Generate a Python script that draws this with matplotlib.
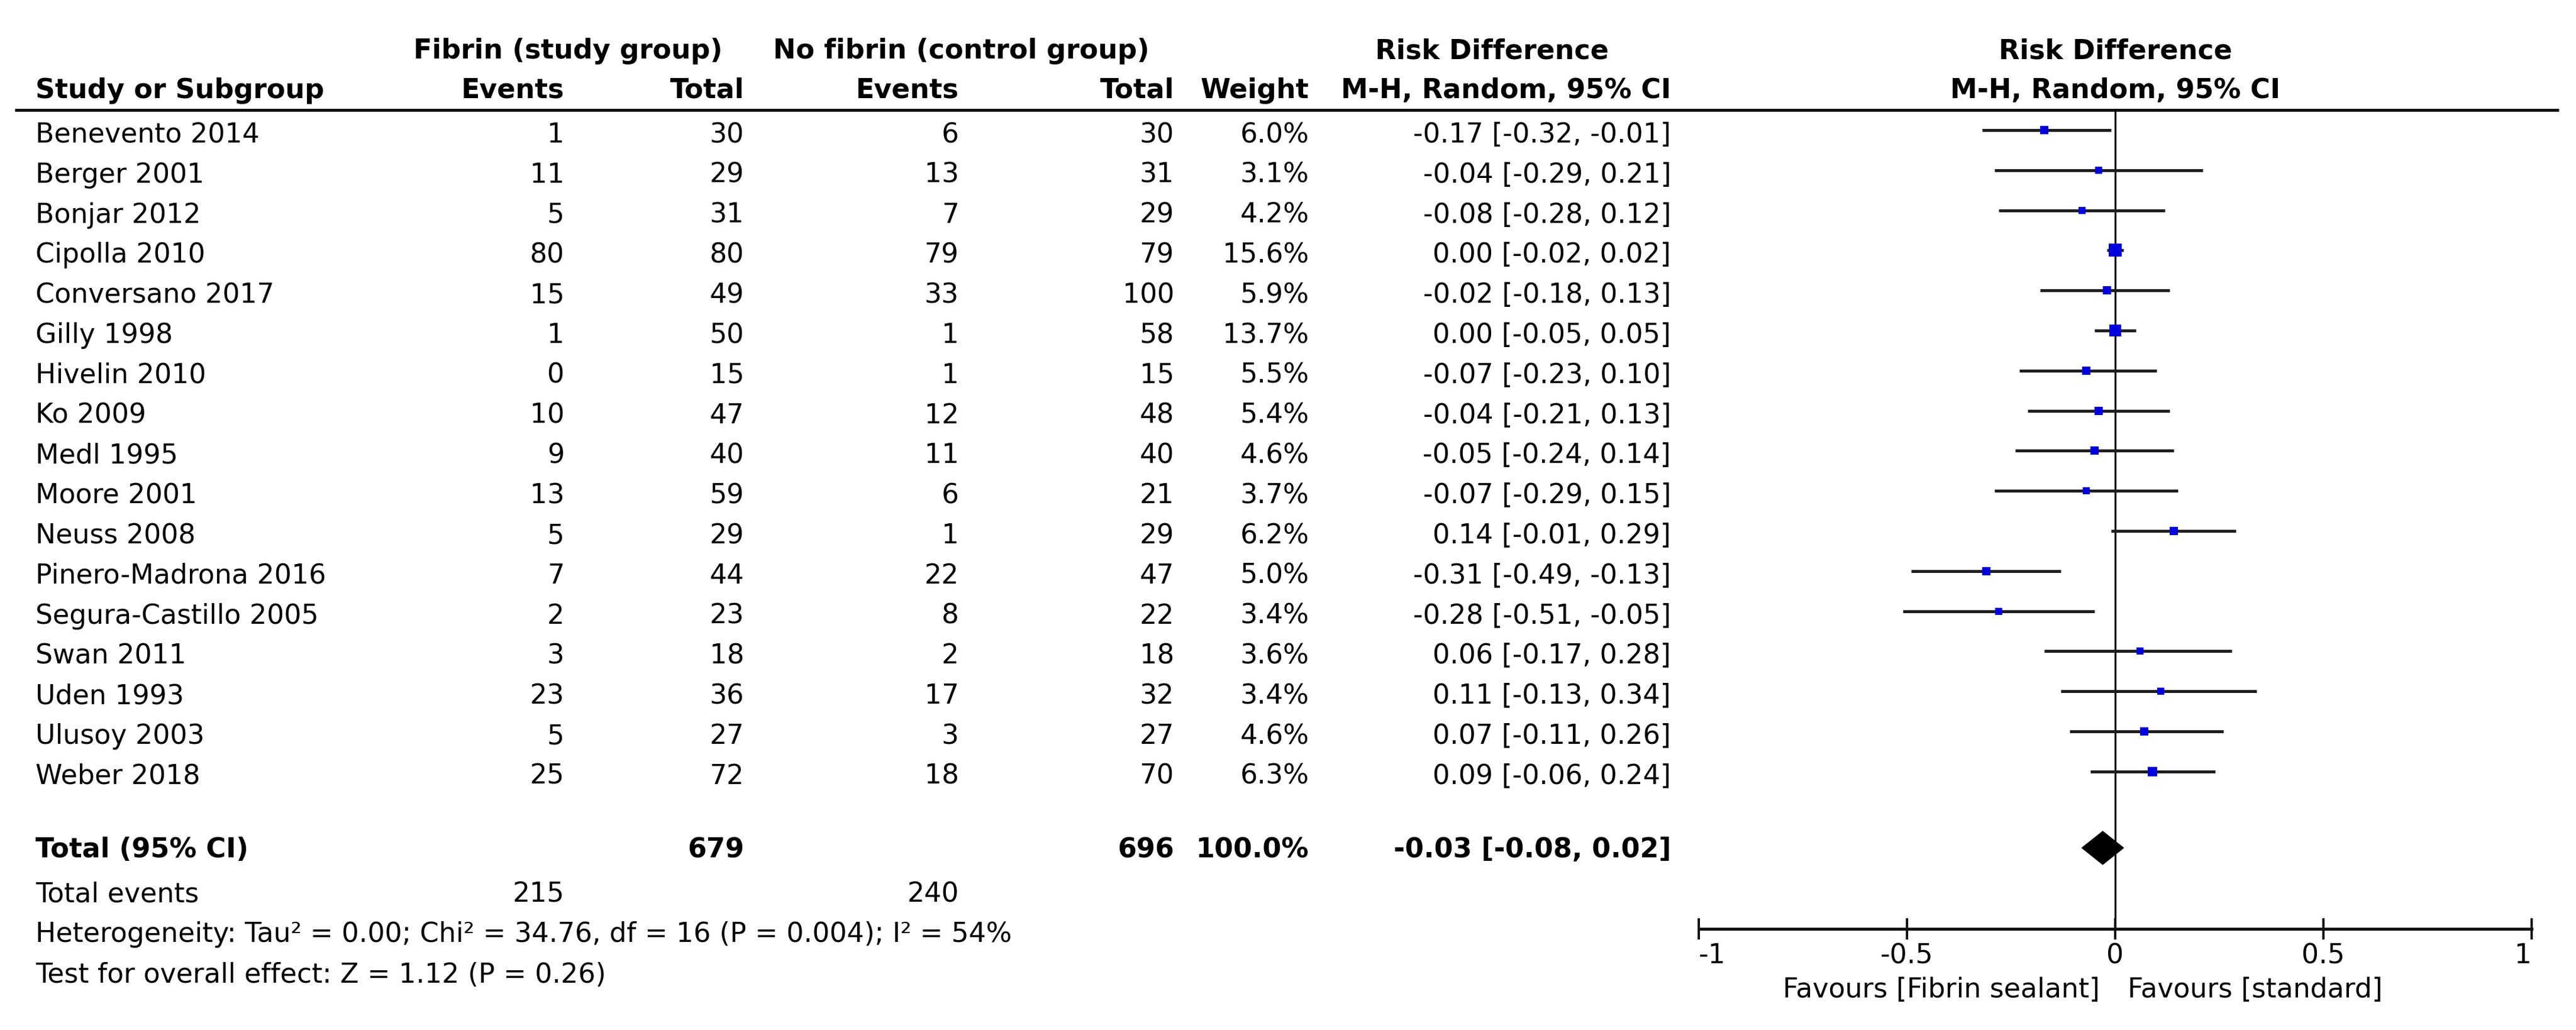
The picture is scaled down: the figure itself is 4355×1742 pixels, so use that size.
import matplotlib
matplotlib.use("Agg")
import matplotlib.pyplot as plt

# ---------------- data ----------------
studies = ["Benevento 2014", "Berger 2001", "Bonjar 2012", "Cipolla 2010", "Conversano 2017",
           "Gilly 1998", "Hivelin 2010", "Ko 2009", "Medl 1995", "Moore 2001", "Neuss 2008",
           "Pinero-Madrona 2016", "Segura-Castillo 2005", "Swan 2011", "Uden 1993",
           "Ulusoy 2003", "Weber 2018"]
ev_fib = [1, 11, 5, 80, 15, 1, 0, 10, 9, 13, 5, 7, 2, 3, 23, 5, 25]
tot_fib = [30, 29, 31, 80, 49, 50, 15, 47, 40, 59, 29, 44, 23, 18, 36, 27, 72]
ev_ctl = [6, 13, 7, 79, 33, 1, 1, 12, 11, 6, 1, 22, 8, 2, 17, 3, 18]
tot_ctl = [30, 31, 29, 79, 100, 58, 15, 48, 40, 21, 29, 47, 22, 18, 32, 27, 70]
weight = [6.0, 3.1, 4.2, 15.6, 5.9, 13.7, 5.5, 5.4, 4.6, 3.7, 6.2, 5.0, 3.4, 3.6, 3.4, 4.6, 6.3]
rd = [-0.17, -0.04, -0.08, 0.00, -0.02, 0.00, -0.07, -0.04, -0.05, -0.07, 0.14, -0.31, -0.28,
      0.06, 0.11, 0.07, 0.09]
ci_lo = [-0.32, -0.29, -0.28, -0.02, -0.18, -0.05, -0.23, -0.21, -0.24, -0.29, -0.01, -0.49,
         -0.51, -0.17, -0.13, -0.11, -0.06]
ci_hi = [-0.01, 0.21, 0.12, 0.02, 0.13, 0.05, 0.10, 0.13, 0.14, 0.15, 0.29, -0.13, -0.05,
         0.28, 0.34, 0.26, 0.24]

total_fib = 679
total_ctl = 696
total_weight = "100.0%"
pooled_rd = -0.03
pooled_lo = -0.08
pooled_hi = 0.02
events_fib_total = 215
events_ctl_total = 240
heterogeneity = "Heterogeneity: Tau\u00b2 = 0.00; Chi\u00b2 = 34.76, df = 16 (P = 0.004); I\u00b2 = 54%"
overall = "Test for overall effect: Z = 1.12 (P = 0.26)"
tick_vals = [-1, -0.5, 0, 0.5, 1]
tick_labels = ["-1", "-0.5", "0", "0.5", "1"]
favours_left = "Favours [Fibrin sealant]"
favours_right = "Favours [standard]"

# ---------------- layout (pixels) ----------------
W, H = 4355, 1742
FS = 33
plt.rcParams['font.family'] = ['DejaVu Sans']

fig = plt.figure(figsize=(W / 100, H / 100), dpi=100)
fig.patch.set_facecolor("white")
tx = fig.add_axes([0, 0, 1, 1])
tx.set_xlim(0, W)
tx.set_ylim(H, 0)
tx.axis("off")

X_STUDY = 60
X_EV1 = 954
X_TOT1 = 1258
X_EV2 = 1621
X_TOT2 = 1985
X_WT = 2213
X_CI = 2825

ROW0 = 220
ROWSTEP = 67.8
BASE_OFF = 21
row_y = [ROW0 + ROWSTEP * i for i in range(len(studies))]
Y_TOTAL = 1434
Y_TEV = 1525
Y_HET = 1593
Y_TEST = 1661

# headers
tx.text(960, 99, "Fibrin (study group)", fontsize=FS, fontweight="bold", ha="center", va="baseline")
tx.text(1625, 99, "No fibrin (control group)", fontsize=FS, fontweight="bold", ha="center", va="baseline")
tx.text(2522, 99, "Risk Difference", fontsize=FS, fontweight="bold", ha="center", va="baseline")
tx.text(3576, 99, "Risk Difference", fontsize=FS, fontweight="bold", ha="center", va="baseline")
tx.text(X_STUDY, 166, "Study or Subgroup", fontsize=FS, fontweight="bold", ha="left", va="baseline")
for x, s in [(X_EV1, "Events"), (X_TOT1, "Total"), (X_EV2, "Events"), (X_TOT2, "Total"),
             (X_WT, "Weight"), (X_CI, "M-H, Random, 95% CI")]:
    tx.text(x, 166, s, fontsize=FS, fontweight="bold", ha="right", va="baseline")
tx.text(3576, 166, "M-H, Random, 95% CI", fontsize=FS, fontweight="bold", ha="center", va="baseline")

tx.plot([25, 4326], [186, 186], color="#111111", lw=5 * 0.72, solid_capstyle="butt")

# rows
for i, name in enumerate(studies):
    yb = row_y[i] + BASE_OFF
    tx.text(X_STUDY, yb, name, fontsize=FS, ha="left", va="baseline")
    tx.text(X_EV1, yb, str(ev_fib[i]), fontsize=FS, ha="right", va="baseline")
    tx.text(X_TOT1, yb, str(tot_fib[i]), fontsize=FS, ha="right", va="baseline")
    tx.text(X_EV2, yb, str(ev_ctl[i]), fontsize=FS, ha="right", va="baseline")
    tx.text(X_TOT2, yb, str(tot_ctl[i]), fontsize=FS, ha="right", va="baseline")
    tx.text(X_WT, yb, f"{weight[i]:.1f}%", fontsize=FS, ha="right", va="baseline")
    tx.text(X_CI, yb, f"{rd[i]:.2f} [{ci_lo[i]:.2f}, {ci_hi[i]:.2f}]", fontsize=FS,
            ha="right", va="baseline")

# totals
yb = Y_TOTAL + 16
tx.text(X_STUDY, yb, "Total (95% CI)", fontsize=FS, fontweight="bold", ha="left", va="baseline")
tx.text(X_TOT1, yb, str(total_fib), fontsize=FS, fontweight="bold", ha="right", va="baseline")
tx.text(X_TOT2, yb, str(total_ctl), fontsize=FS, fontweight="bold", ha="right", va="baseline")
tx.text(X_WT, yb, total_weight, fontsize=FS, fontweight="bold", ha="right", va="baseline")
tx.text(X_CI, yb, f"{pooled_rd:.2f} [{pooled_lo:.2f}, {pooled_hi:.2f}]", fontsize=FS,
        fontweight="bold", ha="right", va="baseline")
tx.text(X_STUDY, Y_TEV, "Total events", fontsize=FS, ha="left", va="baseline")
tx.text(X_EV1, Y_TEV, str(events_fib_total), fontsize=FS, ha="right", va="baseline")
tx.text(X_EV2, Y_TEV, str(events_ctl_total), fontsize=FS, ha="right", va="baseline")
tx.text(X_STUDY, Y_HET, heterogeneity, fontsize=FS, ha="left", va="baseline")
tx.text(X_STUDY, Y_TEST, overall, fontsize=FS, ha="left", va="baseline")

# ---------------- forest plot ----------------
X0, X1 = 2872, 4280
YT, YB = 186, 1571
ax = fig.add_axes([X0 / W, (H - YB) / H, (X1 - X0) / W, (YB - YT) / H])
ax.patch.set_alpha(0)
ax.set_xlim(-1, 1)
ax.set_ylim(YB, YT)
for s in ["top", "left", "right"]:
    ax.spines[s].set_visible(False)
ax.spines["bottom"].set_linewidth(5 * 0.72)
ax.spines["bottom"].set_color("#111111")
ax.set_yticks([])
ax.set_xticks(tick_vals)
ax.set_xticklabels(tick_labels, fontsize=FS)
ax.tick_params(axis="x", direction="inout", length=36 * 0.72, width=4 * 0.72,
               pad=3.6, color="#111111")
lbls = ax.get_xticklabels()
lbls[0].set_horizontalalignment("left")
lbls[-1].set_horizontalalignment("right")

ax.axvline(0, color="black", lw=3.2 * 0.72, zorder=1)

for i in range(len(studies)):
    y = row_y[i]
    ax.plot([ci_lo[i], ci_hi[i]], [y, y], color="#1e1e1e", lw=5 * 0.72,
            solid_capstyle="butt", zorder=2)
    side = 7.2 * weight[i] ** 0.4
    ax.plot([rd[i]], [y], marker="s", ms=side * 0.72, color="#0000dd",
            markeredgewidth=0, zorder=3)

dh = 28
ax.fill([pooled_lo, pooled_rd, pooled_hi, pooled_rd],
        [Y_TOTAL, Y_TOTAL - dh, Y_TOTAL, Y_TOTAL + dh], color="black", zorder=3,
        clip_on=False)

tx.text(3550, 1687, favours_left, fontsize=FS, ha="right", va="baseline")
tx.text(3597, 1687, favours_right, fontsize=FS, ha="left", va="baseline")

fig.savefig("out.png", dpi=100, facecolor="white")
